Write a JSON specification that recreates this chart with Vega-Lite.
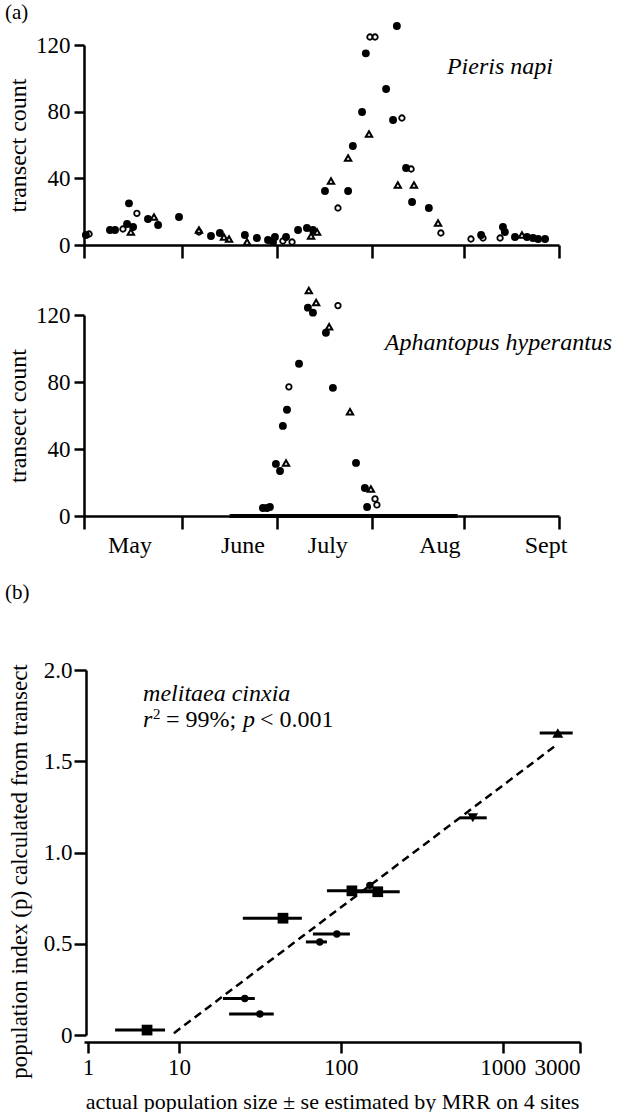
{
  "$schema": "https://vega.github.io/schema/vega-lite/v6.json",
  "background": "white",
  "padding": {"left": 5, "top": 2, "right": 0, "bottom": 0},
  "bounds": "flush",
  "spacing": 70,
  "config": {
    "view": {"stroke": null},
    "font": "Liberation Serif",
    "axis": {"grid": false, "domainColor": "black", "domainWidth": 2.5, "tickColor": "black", "tickWidth": 2.5, "labelColor": "black", "labelFont": "Liberation Serif", "labelFontSize": 23, "titleFont": "Liberation Serif", "titleFontWeight": "normal", "titleColor": "black", "titleFontSize": 24},
    "title": {"font": "Liberation Serif", "fontWeight": "normal", "fontSize": 21, "color": "black"}
  },
  "datasets": {
    "a1": [
      {"d":0.6,"c":6,"s":"F"},{"d":1.6,"c":6.6,"s":"O"},{"d":8.2,"c":9,"s":"F"},{"d":9.8,"c":9,"s":"F"},{"d":12.3,"c":9.6,"s":"O"},{"d":13.6,"c":12.6,"s":"F"},{"d":14.8,"c":7.8,"s":"T"},{"d":15.5,"c":10.8,"s":"F"},{"d":14.2,"c":25,"s":"F"},{"d":16.7,"c":19,"s":"O"},{"d":20.2,"c":15.6,"s":"F"},{"d":22.1,"c":16.8,"s":"T"},{"d":23.4,"c":12,"s":"F"},{"d":30,"c":16.8,"s":"F"},{"d":36.3,"c":7.8,"s":"O"},{"d":36.3,"c":9,"s":"T"},{"d":40.1,"c":5.4,"s":"F"},{"d":42.9,"c":7.2,"s":"F"},{"d":44.2,"c":4.8,"s":"T"},{"d":45.8,"c":3.6,"s":"T"},{"d":50.8,"c":6,"s":"F"},{"d":51.5,"c":1.8,"s":"T"},{"d":54.6,"c":4.2,"s":"F"},{"d":58.1,"c":3,"s":"F"},{"d":59.7,"c":1.8,"s":"F"},{"d":60.3,"c":4.8,"s":"F"},{"d":62.8,"c":2.4,"s":"O"},{"d":63.8,"c":4.8,"s":"F"},{"d":65.7,"c":1.8,"s":"O"},{"d":67.6,"c":9,"s":"F"},{"d":70.4,"c":10.2,"s":"F"},{"d":72.3,"c":9,"s":"F"},{"d":71.7,"c":5.4,"s":"T"},{"d":73.6,"c":7.8,"s":"T"},{"d":76.1,"c":32.4,"s":"F"},{"d":78,"c":38.4,"s":"T"},{"d":80.2,"c":22.2,"s":"O"},{"d":83.4,"c":32.4,"s":"F"},{"d":83.4,"c":52.2,"s":"T"},{"d":84.9,"c":59.4,"s":"F"},{"d":87.8,"c":79.8,"s":"F"},{"d":90,"c":66.6,"s":"T"},{"d":89,"c":115,"s":"F"},{"d":90.3,"c":124.8,"s":"O"},{"d":91.9,"c":124.8,"s":"O"},{"d":95.4,"c":93.6,"s":"F"},{"d":98.8,"c":131.4,"s":"F"},{"d":97.6,"c":75,"s":"F"},{"d":100.4,"c":76.2,"s":"O"},{"d":99.1,"c":36,"s":"T"},{"d":101.7,"c":46.2,"s":"F"},{"d":103.3,"c":45.6,"s":"O"},{"d":103.6,"c":25.8,"s":"F"},{"d":104.2,"c":36,"s":"T"},{"d":108.9,"c":22.2,"s":"F"},{"d":111.8,"c":13.2,"s":"T"},{"d":112.7,"c":7.2,"s":"O"},{"d":122.2,"c":3.6,"s":"O"},{"d":125.4,"c":6,"s":"F"},{"d":126,"c":4.2,"s":"O"},{"d":131.4,"c":4.2,"s":"O"},{"d":132.3,"c":10.8,"s":"F"},{"d":132.9,"c":7.8,"s":"F"},{"d":136.1,"c":4.8,"s":"F"},{"d":138.3,"c":6,"s":"T"},{"d":139.9,"c":4.8,"s":"F"},{"d":141.8,"c":4.2,"s":"F"},{"d":143.4,"c":3.6,"s":"F"},{"d":145.6,"c":3.6,"s":"F"}
    ],
    "a2": [
      {"d":56.5,"c":4.8,"s":"F"},{"d":57.8,"c":4.8,"s":"F"},{"d":58.7,"c":5.4,"s":"F"},{"d":60.6,"c":31.1,"s":"F"},{"d":61.9,"c":26.9,"s":"F"},{"d":63.8,"c":31.7,"s":"T"},{"d":62.8,"c":53.8,"s":"F"},{"d":64.1,"c":63.4,"s":"F"},{"d":64.7,"c":77.1,"s":"O"},{"d":67.9,"c":90.9,"s":"F"},{"d":71,"c":134.6,"s":"T"},{"d":70.7,"c":124.4,"s":"F"},{"d":72.3,"c":121.4,"s":"F"},{"d":73.3,"c":127.4,"s":"T"},{"d":80.2,"c":125.6,"s":"O"},{"d":76.4,"c":109.4,"s":"F"},{"d":77.4,"c":113,"s":"T"},{"d":78.6,"c":76.5,"s":"F"},{"d":84,"c":62.2,"s":"T"},{"d":85.9,"c":31.7,"s":"F"},{"d":88.7,"c":16.7,"s":"F"},{"d":90.6,"c":16.1,"s":"T"},{"d":91.9,"c":10.2,"s":"O"},{"d":89.4,"c":5.4,"s":"F"},{"d":92.5,"c":6.6,"s":"O"}
    ],
    "months": [
      {"d":14.5,"c":-22,"m":"May"},{"d":50.2,"c":-22,"m":"June"},{"d":77,"c":-22,"m":"July"},{"d":112.4,"c":-22,"m":"Aug"},{"d":145.9,"c":-22,"m":"Sept"}
    ],
    "b": [
      {"x":6.35,"lo":4.03,"hi":8.2,"p":0.027,"s":"S"},
      {"x":25.5,"lo":18.7,"hi":29.4,"p":0.2,"s":"C"},
      {"x":31.6,"lo":20.4,"hi":38.5,"p":0.115,"s":"C"},
      {"x":43.9,"lo":24.8,"hi":57.4,"p":0.64,"s":"S"},
      {"x":74.1,"lo":60.8,"hi":82,"p":0.51,"s":"C"},
      {"x":94.4,"lo":67.2,"hi":113.7,"p":0.553,"s":"C"},
      {"x":117,"lo":82,"hi":162,"p":0.79,"s":"S"},
      {"x":151,"lo":151,"hi":151,"p":0.82,"s":"C"},
      {"x":169,"lo":117,"hi":231,"p":0.785,"s":"S"},
      {"x":653,"lo":543,"hi":796,"p":1.19,"s":"D"},
      {"x":2188,"lo":1691,"hi":2704,"p":1.655,"s":"U"}
    ],
    "fit": [{"x":9.3,"p":0.01},{"x":2153,"p":1.59}]
  },
  "vconcat": [
    {
      "width": 475, "height": 200,
      "title": {"text": "(a)", "anchor": "start", "frame": "group", "dx": -79, "offset": -18, "baseline": "alphabetic"},
      "data": {"name": "a1"},
      "encoding": {
        "x": {"field": "d", "type": "quantitative", "scale": {"domain": [0, 150]}, "axis": {"values": [0, 31, 61, 91, 120, 150], "labels": false, "tickSize": 13, "title": null}},
        "y": {"field": "c", "type": "quantitative", "scale": {"domain": [0, 120]}, "axis": {"values": [0, 40, 80, 120], "tickSize": 10, "labelPadding": 4, "title": "transect count", "titleX": -59, "titleBaseline": "alphabetic"}}
      },
      "layer": [
        {"transform": [{"filter": "datum.s === 'F'"}], "mark": {"type": "point", "shape": "circle", "filled": true, "size": 62, "color": "black", "opacity": 1}},
        {"transform": [{"filter": "datum.s === 'O'"}], "mark": {"type": "point", "shape": "circle", "filled": false, "size": 30, "color": "black", "strokeWidth": 1.8, "opacity": 1}},
        {"transform": [{"filter": "datum.s === 'T'"}], "mark": {"type": "point", "shape": "triangle-up", "filled": false, "size": 40, "color": "black", "strokeWidth": 2, "opacity": 1}},
        {"data": {"values": [{"d": 114.6, "c": 102.6, "t": "Pieris napi"}]}, "mark": {"type": "text", "align": "left", "baseline": "alphabetic", "fontStyle": "italic", "fontSize": 24, "font": "Liberation Serif", "color": "black"}, "encoding": {"text": {"field": "t"}}}
      ]
    },
    {
      "width": 475, "height": 201,
      "data": {"name": "a2"},
      "encoding": {
        "x": {"field": "d", "type": "quantitative", "scale": {"domain": [0, 150]}, "axis": {"values": [0, 31, 61, 91, 120, 150], "labels": false, "tickSize": 13, "title": null}},
        "y": {"field": "c", "type": "quantitative", "scale": {"domain": [0, 120]}, "axis": {"values": [0, 40, 80, 120], "tickSize": 10, "labelPadding": 4, "title": "transect count", "titleX": -59, "titleBaseline": "alphabetic"}}
      },
      "layer": [
        {"data": {"values": [{"d": 46, "d2": 118, "c": 0}]}, "mark": {"type": "rule", "strokeWidth": 4, "color": "black"}, "encoding": {"x2": {"field": "d2"}}},
        {"transform": [{"filter": "datum.s === 'F'"}], "mark": {"type": "point", "shape": "circle", "filled": true, "size": 62, "color": "black", "opacity": 1}},
        {"transform": [{"filter": "datum.s === 'O'"}], "mark": {"type": "point", "shape": "circle", "filled": false, "size": 30, "color": "black", "strokeWidth": 1.8, "opacity": 1}},
        {"transform": [{"filter": "datum.s === 'T'"}], "mark": {"type": "point", "shape": "triangle-up", "filled": false, "size": 40, "color": "black", "strokeWidth": 2, "opacity": 1}},
        {"data": {"values": [{"d": 95, "c": 99.3, "t": "Aphantopus hyperantus"}]}, "mark": {"type": "text", "align": "left", "baseline": "alphabetic", "fontStyle": "italic", "fontSize": 24, "font": "Liberation Serif", "color": "black"}, "encoding": {"text": {"field": "t"}}},
        {"data": {"name": "months"}, "mark": {"type": "text", "align": "center", "baseline": "alphabetic", "fontSize": 24, "font": "Liberation Serif", "color": "black"}, "encoding": {"text": {"field": "m"}}}
      ]
    },
    {
      "width": 10, "height": 14,
      "data": {"values": []},
      "mark": "point"
    },
    {
      "width": 496, "height": 365,
      "title": {"text": "(b)", "anchor": "start", "frame": "group", "dx": -79, "offset": 39, "baseline": "alphabetic"},
      "data": {"name": "b"},
      "encoding": {
        "x": {"field": "x", "type": "quantitative", "scale": {"type": "log", "domain": [2.59, 3000]}, "axis": {"values": [2.74, 10, 100, 1000, 3000], "labelExpr": "datum.value < 5 ? '1' : format(datum.value, 'd')", "tickSize": 11, "offset": 7, "labelPadding": 3, "title": "actual population size ± se estimated by MRR on 4 sites", "titleFontSize": 22, "titleY": 66, "titleBaseline": "alphabetic"}},
        "y": {"field": "p", "type": "quantitative", "scale": {"domain": [0, 2]}, "axis": {"values": [0, 0.5, 1, 1.5, 2], "labelExpr": "datum.value == 0 ? '0' : format(datum.value, '.1f')", "tickSize": 12, "labelPadding": 2, "offset": -2, "title": "population index (p) calculated from transect", "titleFontSize": 23, "titleX": -60, "titleY": 201, "titleBaseline": "alphabetic"}}
      },
      "layer": [
        {"transform": [{"filter": "datum.s === 'S'"}], "mark": {"type": "point", "shape": "square", "filled": true, "size": 115, "color": "black", "opacity": 1}},
        {"data": {"name": "fit"}, "mark": {"type": "line", "strokeDash": [8, 5], "strokeWidth": 2.5, "color": "black"}, "encoding": {}},
        {"mark": {"type": "rule", "strokeWidth": 3, "color": "black"}, "encoding": {"x": {"field": "lo", "type": "quantitative", "title": "actual population size ± se estimated by MRR on 4 sites"}, "x2": {"field": "hi"}}},
        {"transform": [{"filter": "datum.s === 'C'"}], "mark": {"type": "point", "shape": "circle", "filled": true, "size": 55, "color": "black", "opacity": 1}},
        {"transform": [{"filter": "datum.s === 'D'"}], "mark": {"type": "point", "shape": "triangle-down", "filled": true, "size": 110, "color": "black", "opacity": 1}},
        {"transform": [{"filter": "datum.s === 'U'"}], "mark": {"type": "point", "shape": "triangle-up", "filled": true, "size": 120, "color": "black", "opacity": 1}},
        {"data": {"values": [{"x": 6.0, "p": 1.83, "t": "melitaea cinxia"}]}, "mark": {"type": "text", "align": "left", "baseline": "alphabetic", "fontStyle": "italic", "fontSize": 24, "font": "Liberation Serif", "color": "black"}, "encoding": {"text": {"field": "t"}}},
        {"data": {"values": [{"x": 6.0, "p": 1.685, "t": "r"}]}, "mark": {"type": "text", "align": "left", "baseline": "alphabetic", "fontStyle": "italic", "fontSize": 24, "font": "Liberation Serif", "color": "black"}, "encoding": {"text": {"field": "t"}}},
        {"data": {"values": [{"x": 6.0, "p": 1.685, "t": "2"}]}, "mark": {"type": "text", "align": "left", "baseline": "alphabetic", "dx": 10, "dy": -8, "fontSize": 15, "font": "Liberation Serif", "color": "black"}, "encoding": {"text": {"field": "t"}}},
        {"data": {"values": [{"x": 6.0, "p": 1.685, "t": "= 99%;"}]}, "mark": {"type": "text", "align": "left", "baseline": "alphabetic", "dx": 23, "fontSize": 24, "font": "Liberation Serif", "color": "black"}, "encoding": {"text": {"field": "t"}}},
        {"data": {"values": [{"x": 6.0, "p": 1.685, "t": "p"}]}, "mark": {"type": "text", "align": "left", "baseline": "alphabetic", "dx": 100, "fontStyle": "italic", "fontSize": 24, "font": "Liberation Serif", "color": "black"}, "encoding": {"text": {"field": "t"}}},
        {"data": {"values": [{"x": 6.0, "p": 1.685, "t": "< 0.001"}]}, "mark": {"type": "text", "align": "left", "baseline": "alphabetic", "dx": 117, "fontSize": 24, "font": "Liberation Serif", "color": "black"}, "encoding": {"text": {"field": "t"}}}
      ]
    }
  ]
}
